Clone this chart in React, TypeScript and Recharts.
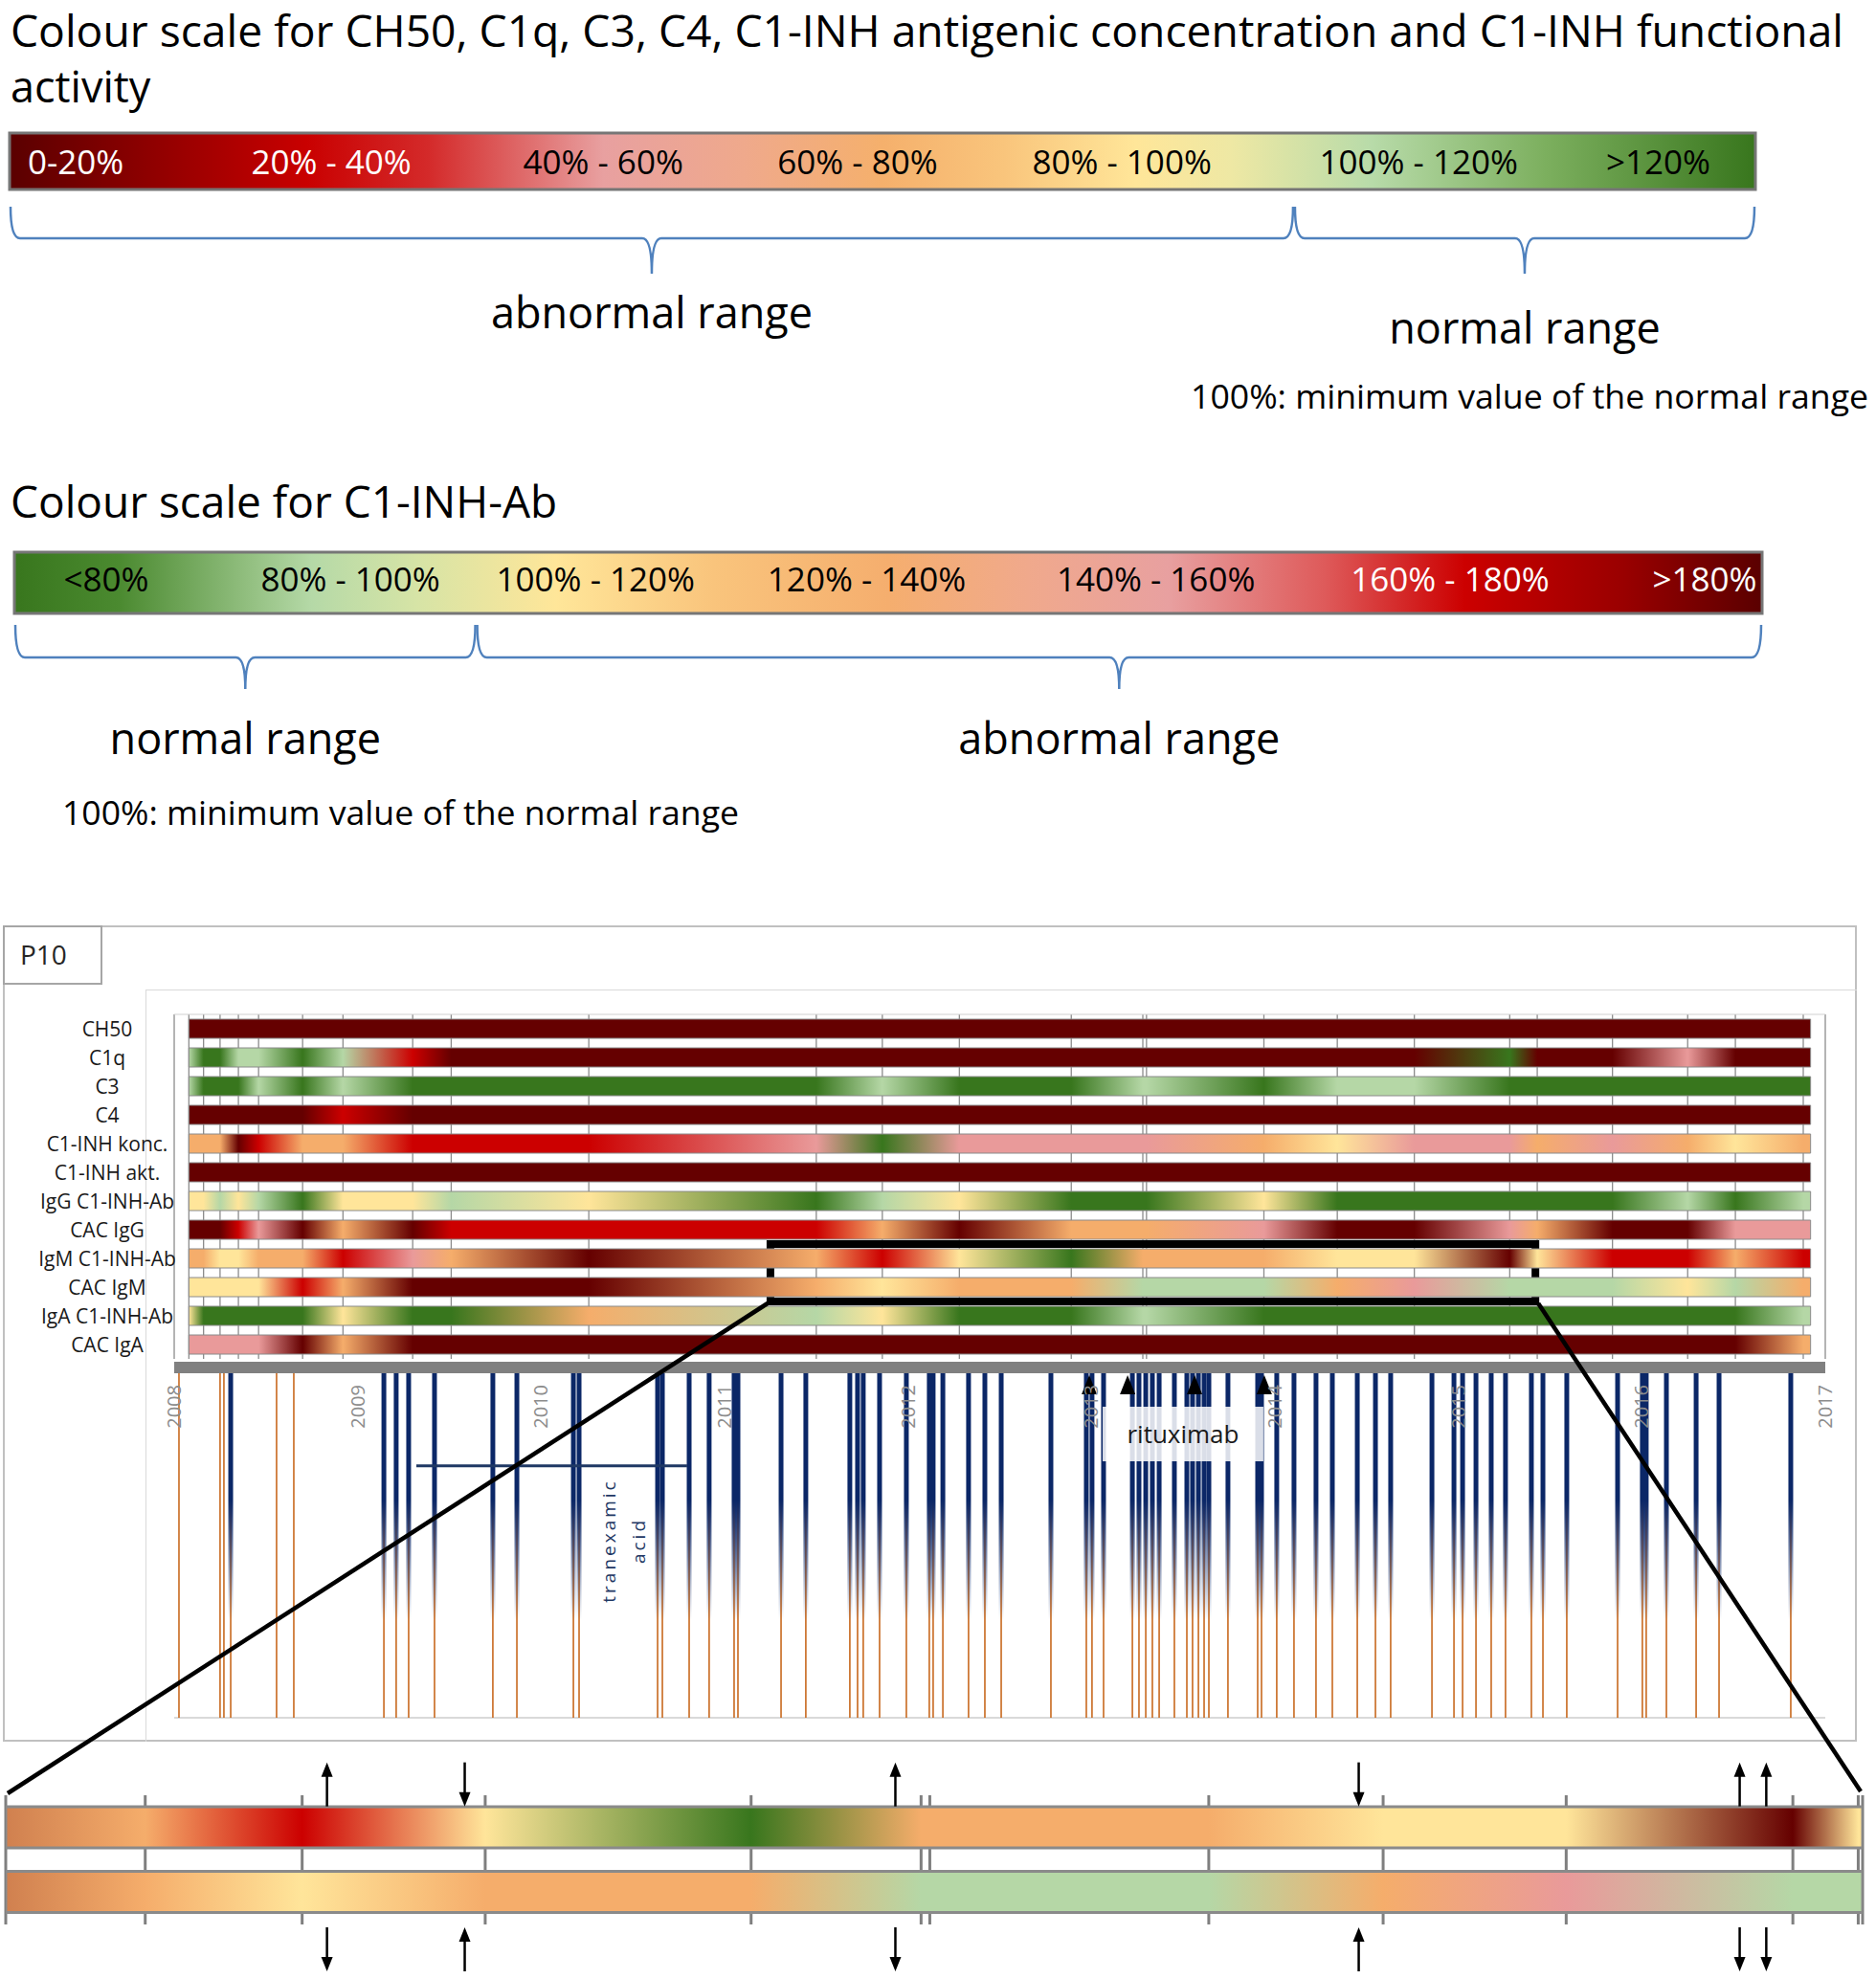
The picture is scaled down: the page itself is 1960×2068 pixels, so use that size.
import React from "react";
import {
  BarChart,
  Bar,
  Cell,
  XAxis,
  YAxis,
  CartesianGrid,
  ReferenceArea,
  ReferenceLine,
  ComposedChart,
  Scatter,
} from "recharts";

const FONT = "'Open Sans', 'DejaVu Sans', sans-serif";

// ---- colour scale legends ----
const levelsA = ["0-20%", "20% - 40%", "40% - 60%", "60% - 80%", "80% - 100%", "100% - 120%", ">120%"];
const levelsB = ["<80%", "80% - 100%", "100% - 120%", "120% - 140%", "140% - 160%", "160% - 180%", ">180%"];
const rangesA = [
  { label: "abnormal range", from: 0, to: 5.15 },
  { label: "normal range", from: 5.15, to: 7 },
];
const rangesB = [
  { label: "normal range", from: 0, to: 1.85 },
  { label: "abnormal range", from: 1.85, to: 7 },
];

// ---- heatmap (P10) ----
const rowNames = [
  "CH50", "C1q", "C3", "C4", "C1-INH konc.", "C1-INH akt.",
  "IgG C1-INH-Ab", "CAC IgG", "IgM C1-INH-Ab", "CAC IgM", "IgA C1-INH-Ab", "CAC IgA",
];
const rowScale = ["A", "A", "A", "A", "A", "A", "B", "B", "B", "B", "B", "B"];

const sampleDates = [
  2008.08, 2008.16, 2008.25, 2008.35, 2008.46, 2008.7, 2008.92, 2009.3, 2009.51, 2010.26,
  2011.5, 2011.86, 2012.28, 2012.89, 2013.28, 2013.3, 2013.94, 2014.34, 2014.76, 2015.28,
  2015.43, 2015.84, 2016.25, 2016.51, 2016.88,
];

// values in % of the lower limit of the normal range
const ch50 = [8, 7, 9, 6, 8, 7, 6, 9, 8, 7, 6, 8, 7, 9, 6, 7, 8, 6, 9, 7, 8, 6, 7, 8, 9];
const c1q = [110, 130, 128, 112, 108, 135, 105, 30, 12, 10, 8, 9, 7, 8, 9, 9, 10, 8, 9, 125, 15, 10, 50, 12, 9];
const c3 = [112, 130, 132, 128, 115, 134, 110, 130, 128, 131, 129, 110, 130, 132, 110, 111, 128, 108, 110, 130, 133, 131, 129, 132, 130];
const c4 = [8, 9, 7, 8, 9, 12, 30, 8, 7, 9, 8, 6, 7, 8, 9, 8, 7, 9, 8, 6, 7, 8, 9, 7, 8];
const c1inhKonc = [70, 70, 72, 10, 30, 72, 78, 28, 32, 30, 50, 125, 48, 52, 55, 58, 70, 90, 50, 55, 70, 52, 72, 92, 75];
const c1inhAkt = [6, 7, 5, 8, 6, 7, 9, 6, 8, 7, 5, 6, 8, 7, 6, 7, 8, 5, 6, 7, 8, 6, 7, 5, 6];
const iggAb = [108, 110, 90, 108, 92, 65, 105, 110, 95, 112, 70, 88, 110, 68, 72, 72, 105, 70, 66, 68, 70, 72, 90, 74, 88];
const cacIgg = [188, 190, 188, 175, 150, 185, 130, 190, 170, 168, 172, 132, 188, 130, 128, 130, 150, 190, 188, 148, 132, 190, 188, 150, 152];
const igmAb = [128, 130, 110, 112, 128, 132, 170, 150, 130, 185, 130, 172, 110, 70, 130, 128, 132, 110, 108, 190, 112, 170, 172, 130, 168];
const cacIgm = [110, 110, 108, 110, 112, 170, 135, 190, 188, 190, 130, 110, 130, 128, 90, 88, 90, 130, 150, 90, 88, 90, 110, 90, 130];
const igaAb = [108, 70, 68, 66, 70, 72, 110, 70, 68, 130, 90, 110, 70, 68, 88, 90, 70, 66, 68, 70, 72, 70, 68, 72, 92];
const cacIga = [150, 150, 152, 148, 150, 190, 130, 190, 188, 190, 192, 188, 190, 189, 190, 188, 191, 190, 188, 190, 189, 190, 188, 190, 130];
const rowValues = [ch50, c1q, c3, c4, c1inhKonc, c1inhAkt, iggAb, cacIgg, igmAb, cacIgm, igaAb, cacIga];

const barSpan = [2008.08, 2016.92];
const years = [2008, 2009, 2010, 2011, 2012, 2013, 2014, 2015, 2016, 2017];

// ---- visits / attacks / therapy ----
const visitOnlyDates = [2008.026, 2008.25, 2008.271, 2008.558, 2008.652];
const attackDates = [
  2008.308, 2009.143, 2009.21, 2009.278, 2009.419, 2009.737, 2009.868, 2010.176, 2010.207, 2010.635,
  2010.661, 2010.807, 2010.916, 2011.052, 2011.073, 2011.308, 2011.443, 2011.683, 2011.725, 2011.756,
  2011.845, 2011.991, 2012.116, 2012.137, 2012.19, 2012.33, 2012.419, 2012.508, 2012.779, 2012.972,
  2013.003, 2013.066, 2013.223, 2013.259, 2013.296, 2013.332, 2013.369, 2013.452, 2013.52, 2013.551,
  2013.583, 2013.614, 2013.64, 2013.744, 2013.906, 2013.927, 2014.01, 2014.104, 2014.224, 2014.313,
  2014.449, 2014.548, 2014.631, 2014.856, 2014.976, 2015.023, 2015.096, 2015.179, 2015.257, 2015.398,
  2015.461, 2015.591, 2015.868, 2016.003, 2016.024, 2016.134, 2016.296, 2016.421, 2016.812,
];
const rituximabDoses = [2012.988, 2013.197, 2013.562, 2013.942];
const rituximabPeriod = [2013.061, 2013.937];
const tranexamicPeriod = [2009.32, 2010.796];

// ---- zoomed strip ----
const zoomRange = [2011.25, 2015.42];
const stripRange = [2011.18, 2015.44];
const igmArrows = [
  { t: 2011.917, dir: "up" }, { t: 2012.233, dir: "down" }, { t: 2013.221, dir: "up" },
  { t: 2014.284, dir: "down" }, { t: 2015.158, dir: "up" }, { t: 2015.219, dir: "up" },
];
const cacIgmArrows = [
  { t: 2011.917, dir: "down" }, { t: 2012.233, dir: "up" }, { t: 2013.221, dir: "down" },
  { t: 2014.284, dir: "up" }, { t: 2015.158, dir: "down" }, { t: 2015.219, dir: "down" },
];

// ---- colours ----
const PALETTE = ["#650000", "#cc0000", "#e99a9a", "#f5ad6b", "#ffe59a", "#b5d7a6", "#38761d"];
const colourA = (v: number) => PALETTE[Math.max(0, Math.min(6, Math.floor(v / 20)))];
const colourB = (v: number) => PALETTE[6 - Math.max(0, Math.min(6, Math.floor((v - 60) / 20)))];

const legendStopsA: [number, string][] = [
  [0, "#5a0000"], [0.08, "#8e0000"], [0.17, "#c90000"], [0.24, "#d42a2a"], [0.34, "#e8a0a0"],
  [0.42, "#efa98c"], [0.5, "#f5b06c"], [0.57, "#f9c57c"], [0.645, "#ffe699"], [0.7, "#eee8a4"],
  [0.78, "#b8dba9"], [0.88, "#7caf5e"], [1, "#38761d"],
];
const legendStopsB: [number, string][] = [
  [0, "#38761d"], [0.06, "#4b8a30"], [0.17, "#b5d9a7"], [0.23, "#d6e4a6"], [0.31, "#ffe699"],
  [0.4, "#f9c47c"], [0.5, "#f5ae6e"], [0.58, "#f0a98c"], [0.66, "#e8a0a0"], [0.75, "#de5a5a"],
  [0.83, "#cc0000"], [0.92, "#9a0000"], [1, "#5a0000"],
];

const NAVY = "#0b2767";
const ORANGE = "#c8691f";

const mix = (a: string, b: string, f: number) => {
  const ca = [1, 3, 5].map((k) => parseInt(a.slice(k, k + 2), 16));
  const cb = [1, 3, 5].map((k) => parseInt(b.slice(k, k + 2), 16));
  return "#" + ca.map((v, i) => Math.round(v + (cb[i] - v) * f).toString(16).padStart(2, "0")).join("");
};

function stopsFor(values: number[], colour: (v: number) => string, d0: number, d1: number) {
  const pts = sampleDates.map((t, i) => ({ t, c: colour(values[i]) }));
  const at = (t: number) => {
    if (t <= pts[0].t) return pts[0].c;
    for (let i = 1; i < pts.length; i++) {
      if (t <= pts[i].t) return mix(pts[i - 1].c, pts[i].c, (t - pts[i - 1].t) / (pts[i].t - pts[i - 1].t));
    }
    return pts[pts.length - 1].c;
  };
  const stops = [{ o: 0, c: at(d0) }];
  pts.forEach((p) => {
    if (p.t > d0 && p.t < d1) stops.push({ o: (p.t - d0) / (d1 - d0), c: p.c });
  });
  stops.push({ o: 1, c: at(d1) });
  return stops;
}

const braceShape = (label: string, labelDy: number, top: number, mid: number, tip: number) => (props: any) => {
  const { x, y, width, height } = props;
  const b = y + height;
  const x1 = x + 1;
  const x2 = x + width - 1;
  const xm = x + width / 2;
  const yt = b + top;
  const ym = b + mid;
  const yp = b + tip;
  const r = 10;
  const d = `M${x1},${yt} Q${x1},${ym} ${x1 + r},${ym} L${xm - r},${ym} Q${xm},${ym} ${xm},${yp} Q${xm},${ym} ${xm + r},${ym} L${x2 - r},${ym} Q${x2},${ym} ${x2},${yt}`;
  return (
    <g>
      <path d={d} fill="none" stroke="#4f81bd" strokeWidth={2.5} />
      <text x={xm} y={b + labelDy} textAnchor="middle" fontSize={45} fill="#000">
        {label}
      </text>
    </g>
  );
};

const LegendChart = (p: any) => {
  const H = 260;
  return (
    <div style={{ position: "absolute", left: 0, top: p.top }}>
      <BarChart
        layout="vertical"
        width={1960}
        height={H}
        data={[{ name: "scale", span: [0, 7] }]}
        margin={{ top: p.padTop, right: p.right, bottom: H - p.padTop - p.barH - 1, left: p.left }}
        barCategoryGap={0}
        barSize={p.barH - 3}
      >
        <defs>
          <linearGradient id={p.id} x1="0" y1="0" x2="1" y2="0">
            {p.stops.map(([o, c]: [number, string], i: number) => (
              <stop key={i} offset={o} stopColor={c} />
            ))}
          </linearGradient>
        </defs>
        <XAxis
          type="number"
          domain={[0, 7]}
          ticks={p.labelPos}
          interval={0}
          height={1}
          axisLine={false}
          tickLine={false}
          tick={(tp: any) => {
            const i = p.labelPos.indexOf(tp.payload.value);
            return (
              <text x={tp.x} y={p.labelBaseline} textAnchor="middle" fontSize={35} fill={p.white.includes(i) ? "#ffffff" : "#000000"}>
                {p.labels[i]}
              </text>
            );
          }}
        />
        <YAxis type="category" dataKey="name" hide />
        <Bar dataKey="span" fill={`url(#${p.id})`} stroke="#767676" strokeWidth={3} isAnimationActive={false} />
        {p.ranges.map((r: any, i: number) => (
          <ReferenceArea
            key={i}
            x1={r.from}
            x2={r.to}
            ifOverflow="visible"
            shape={braceShape(r.label, p.labelDy[i], p.brace[0], p.brace[1], p.brace[2])}
          />
        ))}
      </BarChart>
    </div>
  );
};

const heatRows = rowNames.map((name) => ({ name, span: barSpan }));
const stripRows = [8, 9].map((i) => ({ name: rowNames[i], span: stripRange, idx: i }));

const Arrow = (props: any) => {
  const { cx, cy, payload } = props;
  const up = payload.dir === "up";
  const h = 23;
  const tipY = up ? cy - h : cy + h;
  const tailY = up ? cy + h : cy - h;
  const s = up ? 1 : -1;
  return (
    <g>
      <line x1={cx} y1={tailY} x2={cx} y2={tipY + s * 10} stroke="#000" strokeWidth={2.5} />
      <path d={`M${cx},${tipY} L${cx - 6},${tipY + s * 15} L${cx + 6},${tipY + s * 15} Z`} fill="#000" />
    </g>
  );
};

const Triangle = (props: any) => {
  const { cx, cy } = props;
  return <path d={`M${cx},${cy - 11} L${cx + 8},${cy + 9} L${cx - 8},${cy + 9} Z`} fill="#000" />;
};

const NoMark = () => <g />;

const EVENT_MARGIN = { top: 24, right: 53, bottom: 10, left: 182 };

export default function App() {
  const xHeat = (t: number) => 182 + ((t - 2008) / 9) * 1725;
  const allVisits = [...visitOnlyDates, ...attackDates];
  return (
    <div style={{ position: "absolute", left: 0, top: 0, width: 1960, height: 2068, background: "#fff", fontFamily: FONT, overflow: "hidden" }}>
      {/* colour scale legends */}
      <LegendChart
        top={120}
        padTop={17}
        barH={62}
        left={10}
        right={126}
        id="legA"
        stops={legendStopsA}
        labels={levelsA}
        labelPos={[0.265, 1.29, 2.38, 3.4, 4.46, 5.65, 6.61]}
        white={[0, 1]}
        labelBaseline={62}
        ranges={rangesA}
        brace={[17, 50, 87]}
        labelDy={[144, 160]}
      />
      <LegendChart
        top={560}
        padTop={15}
        barH={67}
        left={15}
        right={119}
        id="legB"
        stops={legendStopsB}
        labels={levelsB}
        labelPos={[0.368, 1.346, 2.328, 3.414, 4.572, 5.75, 6.77]}
        white={[5, 6]}
        labelBaseline={58}
        ranges={rangesB}
        brace={[11, 45, 78]}
        labelDy={[146, 146]}
      />

      {/* panel frame */}
      <div style={{ position: "absolute", left: 3, top: 967, width: 1937, height: 853, border: "2px solid #c0c0c0", boxSizing: "border-box" }} />
      <div style={{ position: "absolute", left: 152, top: 1034, width: 1788, height: 786, borderTop: "1.5px solid #d9d9d9", borderLeft: "1.5px solid #d9d9d9", boxSizing: "border-box" }} />
      <div style={{ position: "absolute", left: 3, top: 967, width: 104, height: 62, border: "2px solid #a6a6a6", boxSizing: "border-box", fontSize: 28, lineHeight: "56px", paddingLeft: 16, color: "#262626", background: "#fff" }}>
        P10
      </div>

      {/* heatmap */}
      <div style={{ position: "absolute", left: 0, top: 1040 }}>
        <BarChart
          layout="vertical"
          width={1960}
          height={385}
          data={heatRows}
          margin={{ top: 19, right: 53, bottom: 5, left: 12 }}
          barCategoryGap={0}
          barSize={20}
        >
          <defs>
            {rowValues.map((vals, i) => (
              <linearGradient key={i} id={`hm${i}`} x1="0" y1="0" x2="1" y2="0">
                {stopsFor(vals, rowScale[i] === "A" ? colourA : colourB, barSpan[0], barSpan[1]).map((s, j) => (
                  <stop key={j} offset={s.o} stopColor={s.c} />
                ))}
              </linearGradient>
            ))}
          </defs>
          <CartesianGrid horizontal={false} vertical stroke="#8c8c8c" strokeWidth={1.3} />
          <XAxis
            type="number"
            orientation="top"
            domain={[2008, 2017]}
            ticks={sampleDates}
            interval={0}
            tick={NoMark}
            tickLine={false}
            axisLine={{ stroke: "#d0d0d0" }}
            height={1}
            allowDataOverflow
          />
          <YAxis
            type="category"
            dataKey="name"
            width={170}
            axisLine={false}
            tickLine={false}
            interval={0}
            tick={(tp: any) => (
              <text x={112} y={tp.y} dy="0.36em" textAnchor="middle" fontSize={21} fill="#1a1a1a">
                {tp.payload.value}
              </text>
            )}
          />
          <Bar dataKey="span" stroke="#8a8a8a" strokeWidth={1} isAnimationActive={false}>
            {heatRows.map((r, i) => (
              <Cell key={r.name} fill={`url(#hm${i})`} />
            ))}
          </Bar>
          <ReferenceArea
            x1={zoomRange[0]}
            x2={zoomRange[1]}
            y1="IgM C1-INH-Ab"
            y2="CAC IgM"
            fill="none"
            fillOpacity={0}
            stroke="#000"
            strokeWidth={8}
            ifOverflow="visible"
          />
        </BarChart>
      </div>

      {/* visits and attacks */}
      <div style={{ position: "absolute", left: 0, top: 1405 }}>
        <ComposedChart width={1960} height={400} margin={EVENT_MARGIN}>
          <defs>
            <linearGradient id="navyFade" gradientUnits="userSpaceOnUse" x1="0" y1="24" x2="0" y2="390">
              <stop offset={0} stopColor={NAVY} stopOpacity={1} />
              <stop offset={0.38} stopColor={NAVY} stopOpacity={1} />
              <stop offset={0.72} stopColor={NAVY} stopOpacity={0} />
            </linearGradient>
          </defs>
          <XAxis type="number" dataKey="t" domain={[2008, 2017]} allowDataOverflow hide />
          <YAxis type="number" domain={[0, 100]} allowDataOverflow hide />
          <Scatter data={allVisits.map((t) => ({ t, y: 0 }))} dataKey="y" shape={NoMark} isAnimationActive={false} />
          <ReferenceLine y={0} stroke="#d9d9d9" strokeWidth={2} />
          {allVisits.map((t, i) => (
            <ReferenceLine key={`v${i}`} x={t} stroke={ORANGE} strokeWidth={1.6} />
          ))}
          {attackDates.map((t, i) => (
            <ReferenceLine key={`a${i}`} x={t} stroke="url(#navyFade)" strokeWidth={5} />
          ))}
        </ComposedChart>
      </div>

      {/* time axis and therapy, layered over the event lines */}
      <div style={{ position: "absolute", left: 0, top: 1405 }}>
        <ComposedChart width={1960} height={400} margin={{ ...EVENT_MARGIN, top: EVENT_MARGIN.top - 1 }}>
          <XAxis
            type="number"
            dataKey="t"
            orientation="top"
            domain={[2008, 2017]}
            allowDataOverflow
            ticks={years}
            interval={0}
            height={1}
            tickLine={false}
            axisLine={{ stroke: "#808080", strokeWidth: 12 }}
            tick={(tp: any) => (
              <text transform={`translate(${tp.x + 7},42) rotate(-90)`} textAnchor="end" fontSize={20} fill="#8c8c8c">
                {tp.payload.value}
              </text>
            )}
          />
          <YAxis type="number" domain={[0, 100]} allowDataOverflow hide />
          <ReferenceLine
            segment={[
              { x: tranexamicPeriod[0], y: 71.9 },
              { x: tranexamicPeriod[1], y: 71.9 },
            ]}
            stroke="#1f3864"
            strokeWidth={3}
          />
          <ReferenceArea
            x1={rituximabPeriod[0]}
            x2={rituximabPeriod[1]}
            y1={73.2}
            y2={88.8}
            fill="#ffffff"
            fillOpacity={0.85}
            stroke="none"
            label={{ value: "rituximab", position: "center", fontSize: 26, fill: "#1a1a1a" }}
          />
          <Scatter data={rituximabDoses.map((t) => ({ t, y: 94.8 }))} dataKey="y" shape={Triangle} isAnimationActive={false} />
        </ComposedChart>
      </div>

      {/* zoomed strip */}
      <div style={{ position: "absolute", left: 0, top: 1860 }}>
        <BarChart
          layout="vertical"
          width={1960}
          height={161}
          data={stripRows}
          margin={{ top: 16, right: 14, bottom: 9, left: 6 }}
          barCategoryGap={0}
          barSize={43}
        >
          <defs>
            {stripRows.map((r) => (
              <linearGradient key={r.idx} id={`st${r.idx}`} x1="0" y1="0" x2="1" y2="0">
                {stopsFor(rowValues[r.idx], colourB, stripRange[0], stripRange[1]).map((s, j) => (
                  <stop key={j} offset={s.o} stopColor={s.c} />
                ))}
              </linearGradient>
            ))}
          </defs>
          <CartesianGrid horizontal={false} vertical stroke="#7f7f7f" strokeWidth={3} />
          <XAxis
            type="number"
            domain={stripRange}
            ticks={sampleDates.filter((t) => t > stripRange[0] && t < stripRange[1])}
            interval={0}
            tick={NoMark}
            tickLine={false}
            axisLine={false}
            height={1}
            allowDataOverflow
          />
          <YAxis type="category" dataKey="name" hide />
          <Bar dataKey="span" stroke="#8a8a8a" strokeWidth={3} isAnimationActive={false}>
            {stripRows.map((r) => (
              <Cell key={r.name} fill={`url(#st${r.idx})`} />
            ))}
          </Bar>
        </BarChart>
      </div>
      <div style={{ position: "absolute", left: 0, top: 1820 }}>
        <ComposedChart width={1960} height={248} margin={{ top: 0, right: 14, bottom: 0, left: 6 }}>
          <XAxis type="number" dataKey="t" domain={stripRange} hide allowDataOverflow />
          <YAxis type="number" domain={[0, 100]} hide />
          <Scatter data={igmArrows.map((a) => ({ ...a, y: 82 }))} dataKey="y" shape={Arrow} isAnimationActive={false} />
          <Scatter data={cacIgmArrows.map((a) => ({ ...a, y: 12.5 }))} dataKey="y" shape={Arrow} isAnimationActive={false} />
        </ComposedChart>
      </div>

      {/* text and connectors */}
      <svg width={1960} height={2068} style={{ position: "absolute", left: 0, top: 0, pointerEvents: "none" }}>
        <text x={11} y={49} fontSize={45} textLength={1915} lengthAdjust="spacingAndGlyphs" fill="#000">
          Colour scale for CH50, C1q, C3, C4, C1-INH antigenic concentration and C1-INH functional
        </text>
        <text x={11} y={107} fontSize={45} fill="#000">
          activity
        </text>
        <text x={1244} y={427} fontSize={35} textLength={708} lengthAdjust="spacingAndGlyphs" fill="#000">
          100%: minimum value of the normal range
        </text>
        <text x={11} y={541} fontSize={46} fill="#000">
          Colour scale for C1-INH-Ab
        </text>
        <text x={65} y={862} fontSize={35} textLength={707} lengthAdjust="spacingAndGlyphs" fill="#000">
          100%: minimum value of the normal range
        </text>
        <text transform="translate(643,1610) rotate(-90)" textAnchor="middle" fontSize={19} letterSpacing={3} fill="#1f3864">
          tranexamic
        </text>
        <text transform="translate(674,1610) rotate(-90)" textAnchor="middle" fontSize={19} letterSpacing={3} fill="#1f3864">
          acid
        </text>
        <line x1={xHeat(zoomRange[0]) - 3} y1={1362} x2={8} y2={1874} stroke="#000" strokeWidth={4.5} />
        <line x1={xHeat(zoomRange[1]) + 3} y1={1362} x2={1944} y2={1872} stroke="#000" strokeWidth={4.5} />
      </svg>
    </div>
  );
}
